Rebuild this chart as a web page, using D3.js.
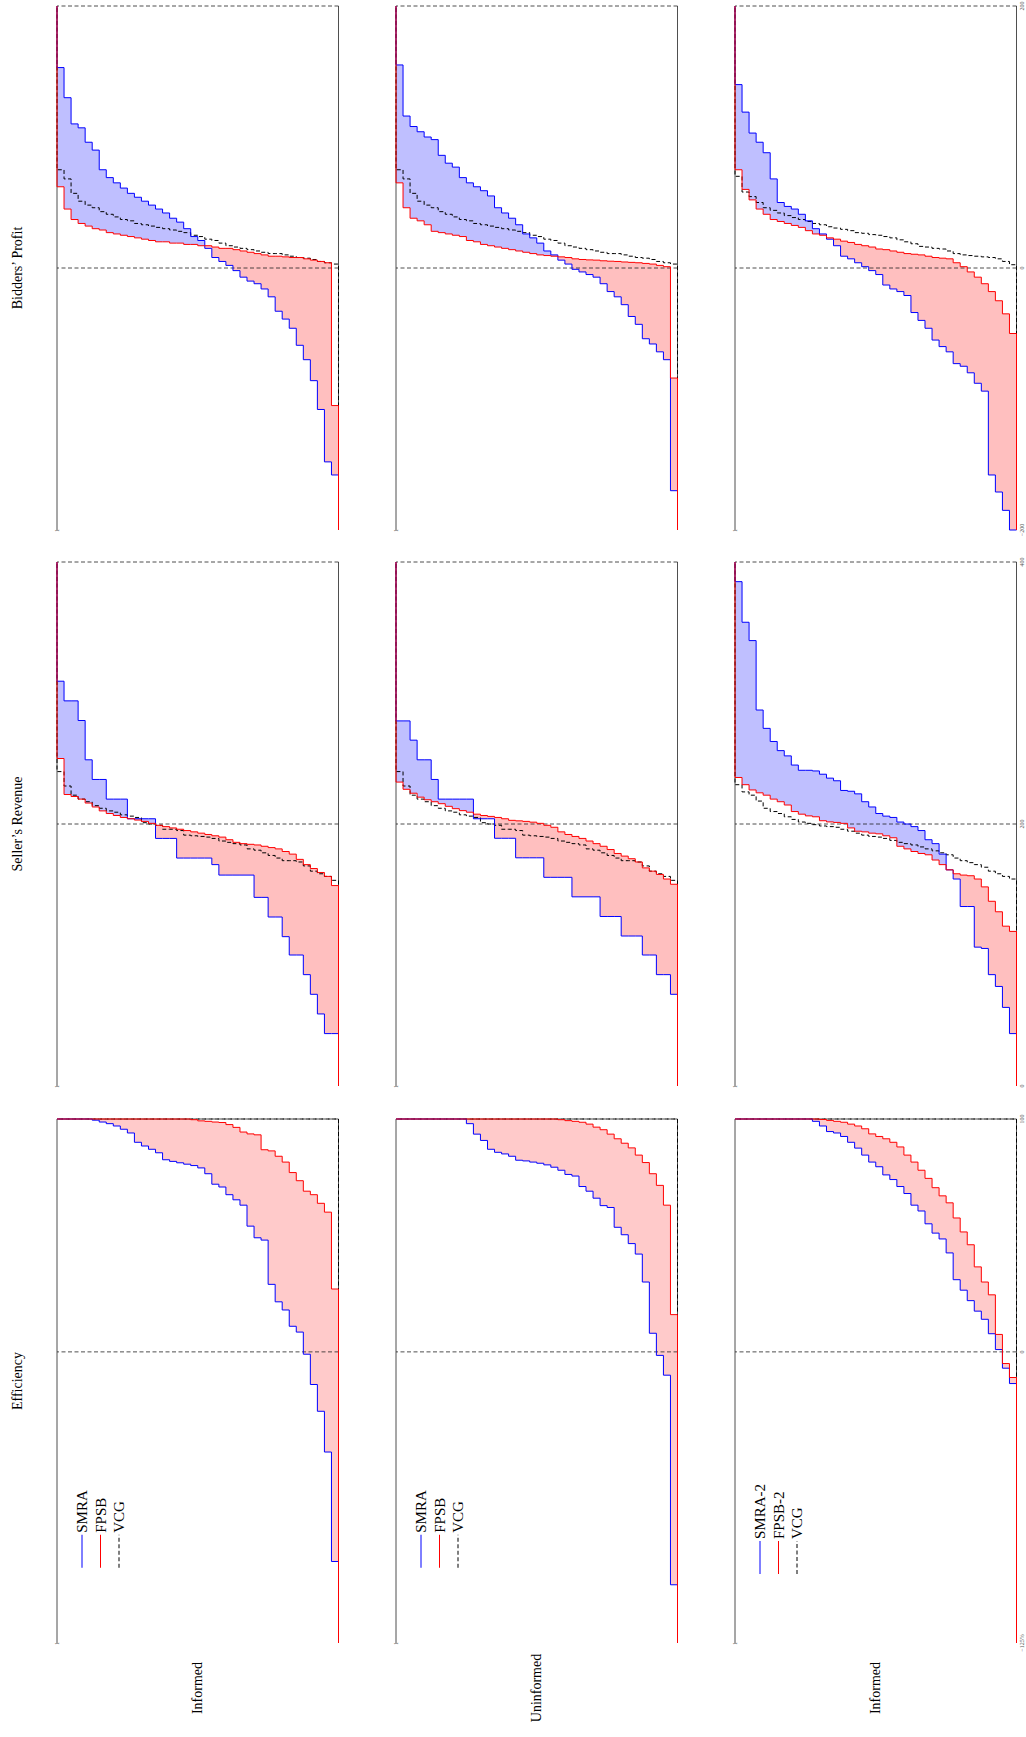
<!DOCTYPE html>
<html>
<head>
<meta charset="utf-8">
<script src="https://cdn.jsdelivr.net/npm/d3@7"></script>
<style>
body{margin:0;background:#fff}
svg{display:block}
text{font-family:"Liberation Serif","DejaVu Serif",serif;fill:#000}
</style>
</head>
<body>
<div class="chart"></div>
<script>
// quantiles of each distribution, one value per 1/40 of probability
const eff1Smra=[-90,-43,-25.5,-14,-1,8.5,11,18,21.5,29,48,49,54,63,65.3,67.5,70.8,72,76.5,79,80,80.6,81.2,81.8,82.5,85.5,87,88.4,90,94,95.6,97,98,98.7,99.5,100,100,100,100,100]
const eff1Fpsb=[27,60,63.8,67.5,69,73.5,77,81.5,84,86.3,86.8,93.2,93.6,94.4,96.4,97.6,98.5,98.7,99,99.2,99.7,100,100,100,100,100,100,100,100,100,100,100,100,100,100,100,100,100,100,100]
const eff2Smra=[-100,-10,-1.5,8,30,42,46.5,50.3,53.5,62,62.8,66,69,71,75.5,76.2,78,79.3,80.3,81,81.5,82,82.3,84,85,85.7,87,90.8,93.5,98,100,100,100,100,100,100,100,100,100,100]
const eff2Fpsb=[16,63,71.5,76.5,81.3,84.5,87.6,89.6,91.5,93.5,95.4,96.5,97.8,98.6,99,99.3,99.7,100,100,100,100,100,100,100,100,100,100,100,100,100,100,100,100,100,100,100,100,100,100,100]
const eff3Smra=[-13.6,-7,1,7.8,14,17.5,22,26.5,31,42.5,48.5,51,55,60.5,63,68,71,74,76,79.5,81.5,84.5,87.5,90,92.5,94,94.6,97,99,100,100,100,100,100,100,100,100,100,100,100]
const eff3Fpsb=[-11,-5,7.5,24.5,30,36.5,46,51.5,57.5,64,67,70.5,74.5,78,81.5,84.5,88,90,91.5,92.5,93.6,95.8,97,97.8,98.6,99,99.4,99.8,100,100,100,100,100,100,100,100,100,100,100,100]
const effVcg=[100,100,100,100,100,100,100,100,100,100,100,100,100,100,100,100,100,100,100,100,100,100,100,100,100,100,100,100,100,100,100,100,100,100,100,100,100,100,100,100]

const rev1Smra=[40,40,55,70,85,100,100,114,129,129,144,144,161,161,161,161,161,169,174,174,174,174,174,189,189,189,204,204,204,204,219,219,219,234,234,249,279,294,294,309]
const rev1Fpsb=[153,160,163,166,169,173,177,179,181,182,183,184,184.5,185,186,188,190,191,192,193,194,195,196,197,198,199,200.5,202,203,204,205,206.5,208,210,213,216,219,221,222.5,250]
const rev2Smra=[70,85,85,100,100,114.5,114.5,114.5,129.4,129.4,129.4,144.4,144.4,144.4,144.4,159.3,159.3,159.3,159.3,174.2,174.2,174.2,174.2,189.1,189.1,189.1,204,204,204,219,219,219,219,219,234,249,249,264,278.7,278.7]
const rev2Fpsb=[154,158,161.5,164,166.5,171,173.5,175.5,177.5,180.5,183,185,187,189,190.5,192,194,197.5,199,200.5,201.4,202,202.4,202.8,204,205,205.8,206.5,207.5,209,210.2,211.7,213.5,215.5,217,218.5,220.5,223.5,226.5,232]
const revVcg12=[157,160,162,164,168,171,172,172,174,176,178,180,181,184,185,186,187,189,190,190.5,191,191.5,195,196,196,199,200,201,205,206,207,209,210,212,214,217,219,222,229,240]
const rev3Smra=[40,60,76,85,105,106,137,137,158,165,177,185,188,195,198,200,201.5,205,206,208,213,217,223,225,225.6,233,235,238,240.5,241,241,245,252,256,263,273,287,340,354,385]
const rev3Fpsb=[118,122,133,141,152,158,160.5,161,162,165,169,172.5,176.5,177.5,179,181,183,189.5,191,192.5,193,194,194.5,197,200.5,201.2,201.6,202.5,205.5,206.2,207.5,209.5,214.5,217,219,222,223.8,226,230,235.5]
const revVcg3=[158,160,162,164,167,169,170.5,172,174,176.5,178,179.5,181,182.5,184,185,186,187.5,189,190,190.5,191.5,193,194.5,196,197.5,198,198.5,199.5,200.5,201.5,203.5,205.5,208,209.5,212,217.5,222,224.5,230]

const prof1Smra=[-158,-148,-108,-86,-70,-59,-46,-39,-33,-22,-16,-12,-10,-7,-2,2,5,8,15,21,24,30,35,38,42,45,48,51,54,57,61,65,69,75,90,96,107,110,130,153]
const prof1Fpsb=[-105,4,5,6,7,8,8,8.5,9,9,10,11,12,13,14,15,15,16,17,17,18,18,19,19,20,20,21,22,23,24,25,26,27,29,30,32,34,37,45,62]
const prof2Smra=[-170,-70,-64,-58,-54,-43,-37,-28,-22,-18,-12,-7,-5,-3,-1,3,6,10,13,19,23,26,33,38,42,46,55,59,62,65,69,77,80,86,98,100,104,108,116,155]
const prof2Fpsb=[-84,1,2,3,3.5,4,4.3,4.6,5,5.2,5.5,6,6.2,6.5,7,8,8.5,9,9.5,10,11,12,13,14,15,16,17,18,20,21,24,25,26,27,28,33,36,38,46,65]
const profVcg12=[3,4,5,6.5,7.5,8,9,10,11,11,12,13,14,15,16,17,19,21,22,24,25,27,28,29,30,31,32,33,34,36,37,39,41,43,46,48,51,57,68,75]
const prof3Smra=[-215,-185,-171,-158,-94,-88,-80,-75,-73,-64,-60,-55,-46,-40,-34,-21,-18,-16,-13,-5,-2,1,4,7,9,17,22,26,30,36,41,45,47,50,68,88,96,103,119,140]
const prof3Fpsb=[-50,-35,-25,-18,-12,-7,-3,1,4,7,7.5,8,9,10,10.5,11,12,13,14,14.5,16,17,18,19.5,20.5,22,23,25,26,28.5,31,32.5,34,35.5,37,41,45,52,60,75]
const profVcg3=[2.5,5,7,8,8.5,9,9.5,10,11,13,14.5,15,16,16.5,18.5,20,21.5,23,24,25,25.5,26.5,27,28.5,29.5,30.5,31.5,33,34,35.5,37,38.5,40,42,44,46,50,54.5,58,70]

const colNames=["Efficiency","Seller’s Revenue","Bidders’ Profit"]
const rowNames=["Informed","Uninformed","Informed"]
const legendNames=[["SMRA","FPSB","VCG"],["SMRA","FPSB","VCG"],["SMRA-2","FPSB-2","VCG"]]
const xDomains=[[-125,100],[0,400],[-200,200]]
const xTicks=[[-125,0,100],[0,200,400],[-200,0,200]]
const xTickLabels=[["−125%","0","100"],["0","200","400"],["−200","0","200"]]
const refLines=[[0,100],[200,400],[0,200]]

const series=[
	[[eff1Smra,eff1Fpsb,effVcg],[rev1Smra,rev1Fpsb,revVcg12],[prof1Smra,prof1Fpsb,profVcg12]],
	[[eff2Smra,eff2Fpsb,effVcg],[rev2Smra,rev2Fpsb,revVcg12],[prof2Smra,prof2Fpsb,profVcg12]],
	[[eff3Smra,eff3Fpsb,effVcg],[rev3Smra,rev3Fpsb,revVcg3],[prof3Smra,prof3Fpsb,profVcg3]]
]

const N=40
const colU=[94,651,1207], panelW=524
const rowV=[57,396,735], panelH=281.5
const blueFill='#bfbfff'
const redFill=['#ffcaca','#ffbfbf','#ffbfbf']

let svg=d3.select('.chart').append('svg')
	.attr('width',1026)
	.attr('height',1737)

// the figure is drawn landscape and turned a quarter to the left
let fig=svg.append('g')
	.attr('transform','translate(0,1737) rotate(-90)')

for(let r=0;r<3;r++){
	for(let c=0;c<3;c++){
		const dom=xDomains[c]
		const [smra,fpsb,vcg]=series[r][c]

		let x=d3.scaleLinear()
			.domain(dom)
			.range([colU[c],colU[c]+panelW])
			.clamp(true)
		let y=d3.scaleLinear()
			.domain([0,1])
			.range([rowV[r]+panelH,rowV[r]])

		const cdf=q=>[[dom[0],0]].concat(q.map((d,i)=>[d,(i+1)/N]),[[dom[1],1]])
		const both=[{p:0,s:dom[0],f:dom[0]}]
			.concat(smra.map((d,i)=>({p:(i+1)/N,s:d,f:fpsb[i]})),[{p:1,s:dom[1],f:dom[1]}])

		let g=fig.append('g')

		g.append('path')
			.datum(both)
			.attr('fill',blueFill)
			.attr('d',d3.area()
				.y(d=>y(d.p))
				.x0(d=>x(d.f))
				.x1(d=>x(Math.max(d.s,d.f)))
				.curve(d3.curveStepAfter))

		g.append('path')
			.datum(both)
			.attr('fill',redFill[c])
			.attr('d',d3.area()
				.y(d=>y(d.p))
				.x0(d=>x(d.s))
				.x1(d=>x(Math.max(d.s,d.f)))
				.curve(d3.curveStepAfter))

		// frame: solid at 0 and 1, dashed at the reference values
		g.selectAll(null)
			.data([0,1])
			.enter()
			.append('line')
			.attr('x1',colU[c]).attr('x2',colU[c]+panelW)
			.attr('y1',d=>y(d)).attr('y2',d=>y(d))
			.attr('stroke','#222')
			.attr('stroke-width',0.8)

		g.selectAll(null)
			.data(refLines[c])
			.enter()
			.append('line')
			.attr('x1',d=>x(d)).attr('x2',d=>x(d))
			.attr('y1',y(0)).attr('y2',y(1))
			.attr('stroke','#222')
			.attr('stroke-width',0.8)
			.attr('stroke-dasharray','4,2.5')

		const line=d3.line()
			.x(d=>x(d[0]))
			.y(d=>y(d[1]))
			.curve(d3.curveStepAfter)

		g.append('path')
			.attr('d',line(cdf(vcg)))
			.attr('fill','none')
			.attr('stroke','#000')
			.attr('stroke-width',1)
			.attr('stroke-dasharray','4,2.5')

		g.append('path')
			.attr('d',line(cdf(smra)))
			.attr('fill','none')
			.attr('stroke','#0000ff')
			.attr('stroke-width',1)

		g.append('path')
			.attr('d',line(cdf(fpsb)))
			.attr('fill','none')
			.attr('stroke','#ff0000')
			.attr('stroke-width',1)

		g.append('text')
			.attr('x',colU[c]-0.5)
			.attr('y',rowV[r])
			.attr('text-anchor','middle')
			.attr('dominant-baseline','central')
			.style('font-size','6px')
			.style('fill','#555')
			.text('1')

		if(r==2){
			g.selectAll(null)
				.data(xTicks[c])
				.enter()
				.append('text')
				.attr('x',d=>x(d))
				.attr('y',rowV[r]+panelH+5.5)
				.attr('text-anchor','middle')
				.attr('dominant-baseline','central')
				.style('font-size','6px')
				.style('fill','#555')
				.text((d,i)=>xTickLabels[c][i])
		}
	}
}

fig.selectAll(null)
	.data(colNames)
	.enter()
	.append('text')
	.attr('x',(d,i)=>colU[i]+panelW/2)
	.attr('y',17)
	.attr('text-anchor','middle')
	.attr('dominant-baseline','central')
	.style('font-size','14px')
	.text(d=>d)

fig.selectAll(null)
	.data(rowNames)
	.enter()
	.append('text')
	.attr('x',49)
	.attr('y',(d,i)=>rowV[i]+panelH/2)
	.attr('text-anchor','middle')
	.attr('dominant-baseline','central')
	.style('font-size','14px')
	.text(d=>d)

// legends sit in the efficiency panels, centred on one spot
const legendColors=['#0000ff','#ff0000','#000']
legendNames.forEach((names,r)=>{
	let lg=fig.append('g')
	let texts=lg.selectAll(null)
		.data(names)
		.enter()
		.append('text')
		.attr('y',(d,i)=>rowV[r]+25+18.5*i)
		.attr('dominant-baseline','central')
		.style('font-size','15px')
		.text(d=>d)
	let maxW=d3.max(texts.nodes(),n=>n.getComputedTextLength())
	let lx=208-(33+2+maxW)/2
	texts.attr('x',lx+35)
	lg.selectAll(null)
		.data(names)
		.enter()
		.append('line')
		.attr('x1',lx).attr('x2',lx+33)
		.attr('y1',(d,i)=>rowV[r]+25+18.5*i)
		.attr('y2',(d,i)=>rowV[r]+25+18.5*i)
		.attr('stroke',(d,i)=>legendColors[i])
		.attr('stroke-width',1)
		.attr('stroke-dasharray',(d,i)=>i==2?'4,2.5':null)
})
</script>
</body>
</html>
